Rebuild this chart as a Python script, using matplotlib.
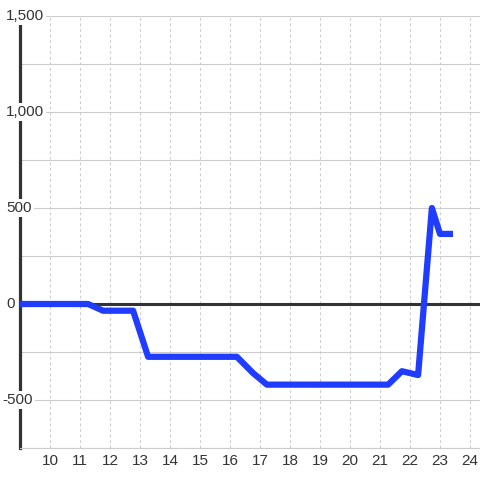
import matplotlib
matplotlib.use('Agg')
import matplotlib.pyplot as plt

# hour of day vs value
hours = [9, 11.27, 11.77, 12.77, 13.27, 16.23, 16.77, 17.23, 21.27, 21.73, 22.27, 22.73, 23.0, 23.33]
values = [0, 0, -35, -35, -275, -275, -360, -420, -420, -350, -370, 500, 365, 365]

y_labels = ['1,500', '1,000', '500', '0', '-500']
y_label_vals = [1500, 1000, 500, 0, -500]
x_ticks = list(range(10, 25))

plt.rcParams['font.family'] = ['Liberation Sans', 'DejaVu Sans']

fig = plt.figure(figsize=(4.8, 4.8), dpi=100)
ax = fig.add_axes([20/480, 32/480, 460/480, 432/480])

ax.set_xlim(9, 24 + 10/30)
ax.set_ylim(-750, 1500)

# grid
ax.set_yticks(range(-750, 1501, 250))
ax.set_xticks(x_ticks)
ax.set_xticklabels([str(t) for t in x_ticks], fontsize=11, color='#333')
ax.tick_params(axis='both', length=0)
ax.tick_params(axis='x', pad=4)
ax.set_yticklabels([])
ax.grid(axis='y', color='#cccccc', lw=0.8, zorder=0)
ax.grid(axis='x', color='#cccccc', lw=0.8, linestyle=(0, (2.5, 2.5)), zorder=0)
ax.set_axisbelow(True)

for s in ['top', 'right']:
    ax.spines[s].set_visible(False)
ax.spines['left'].set_color('#333333')
ax.spines['left'].set_linewidth(2.3)
ax.spines['bottom'].set_color('#cccccc')
ax.spines['bottom'].set_linewidth(0.8)

ax.axhline(0, color='#333333', lw=2.2, zorder=2)
ax.plot(hours, values, color='#1f3cff', lw=4.5, solid_joinstyle='round', zorder=3)

# y labels sit over the axis with white boxes
trans = ax.get_yaxis_transform()
for lab, v in zip(y_labels, y_label_vals):
    ax.text(-14/460 if not lab.startswith('-') else -18/460, v, lab, transform=trans,
            ha='left', va='center', fontsize=11, color='#333',
            bbox=dict(facecolor='white', edgecolor='none', pad=1.5),
            clip_on=False, zorder=10)

fig.savefig('out.png', dpi=100)
